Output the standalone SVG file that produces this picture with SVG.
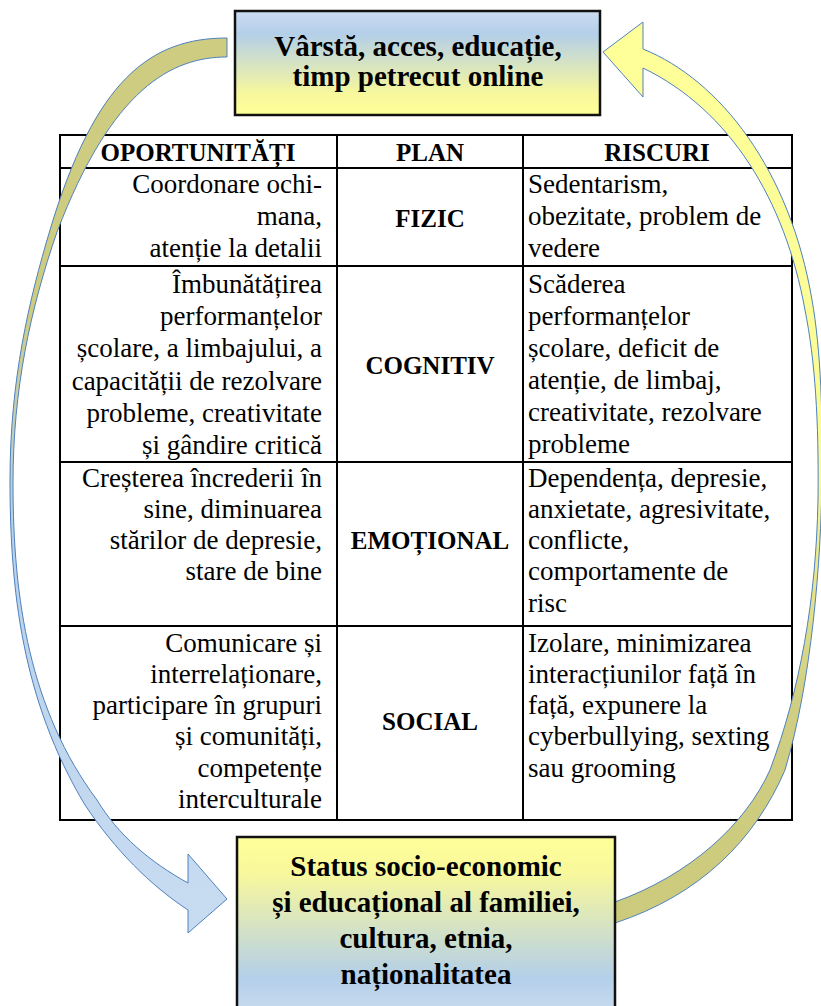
<svg xmlns="http://www.w3.org/2000/svg" width="821" height="1006" viewBox="0 0 821 1006">
<defs>
<linearGradient id="gTop" x1="0" y1="0" x2="0" y2="1">
<stop offset="0" stop-color="#cbddf0"/>
<stop offset="0.22" stop-color="#b4cfe9"/>
<stop offset="0.8" stop-color="#f8f89c"/>
<stop offset="1" stop-color="#ffff99"/>
</linearGradient>
<linearGradient id="gBot" gradientUnits="userSpaceOnUse" x1="0" y1="837" x2="0" y2="1017">
<stop offset="0" stop-color="#ffff99"/>
<stop offset="0.2" stop-color="#f8f89c"/>
<stop offset="0.78" stop-color="#b4cfe9"/>
<stop offset="1" stop-color="#cbddf0"/>
</linearGradient>
<linearGradient id="gLeft" gradientUnits="userSpaceOnUse" x1="0" y1="38" x2="0" y2="933">
<stop offset="0" stop-color="#cdcc80"/>
<stop offset="0.3" stop-color="#cdcc80"/>
<stop offset="0.55" stop-color="#b8d1eb"/>
<stop offset="1" stop-color="#c8dcf1"/>
</linearGradient>
<linearGradient id="gRight" gradientUnits="userSpaceOnUse" x1="0" y1="22" x2="0" y2="923">
<stop offset="0" stop-color="#ffff99"/>
<stop offset="0.5" stop-color="#fbfb96"/>
<stop offset="0.75" stop-color="#d0ce82"/>
<stop offset="1" stop-color="#cccb7c"/>
</linearGradient>
</defs>
<style>
.t { font-family: "Liberation Serif", "Times New Roman", serif; font-size: 27px; fill: #000; }
.r { text-anchor: end; }
.h { font-family: "Liberation Serif", "Times New Roman", serif; font-size: 25px; font-weight: bold; text-anchor: middle; fill: #000; }
.b { font-family: "Liberation Serif", "Times New Roman", serif; font-size: 29px; font-weight: bold; text-anchor: middle; fill: #000; }
.grid { stroke: #000; stroke-width: 2; fill: none; }
.arrow { stroke: #4f81bd; stroke-width: 1; }
.box { stroke: #111; stroke-width: 2.5; }
</style>
<rect x="0" y="0" width="821" height="1006" fill="#fff"/>

<g id="table">
<rect x="60" y="135" width="732" height="685" fill="#fff" class="grid"/>
<line class="grid" x1="60" y1="168" x2="792" y2="168"/>
<line class="grid" x1="60" y1="266" x2="792" y2="266"/>
<line class="grid" x1="60" y1="462" x2="792" y2="462"/>
<line class="grid" x1="60" y1="626" x2="792" y2="626"/>
<line class="grid" x1="337" y1="135" x2="337" y2="820"/>
<line class="grid" x1="523" y1="135" x2="523" y2="820"/>
<g id="header">
<text class="h" x="198" y="161">OPORTUNITĂȚI</text>
<text class="h" x="430" y="161">PLAN</text>
<text class="h" x="657" y="161">RISCURI</text>
</g>
<g id="row-fizic">
<text class="t r" x="322" y="193">Coordonare ochi-</text>
<text class="t r" x="322" y="225">mana,</text>
<text class="t r" x="322" y="257">atenție la detalii</text>
<text class="h" x="430" y="227">FIZIC</text>
<text class="t" x="528" y="193">Sedentarism,</text>
<text class="t" x="528" y="225">obezitate, problem de</text>
<text class="t" x="528" y="257">vedere</text>
</g>
<g id="row-cognitiv">
<text class="t r" x="322" y="293">Îmbunătățirea</text>
<text class="t r" x="322" y="325">performanțelor</text>
<text class="t r" x="322" y="357">școlare, a limbajului, a</text>
<text class="t r" x="322" y="390">capacității de rezolvare</text>
<text class="t r" x="322" y="422">probleme, creativitate</text>
<text class="t r" x="322" y="454">și gândire critică</text>
<text class="h" x="430" y="374">COGNITIV</text>
<text class="t" x="528" y="293">Scăderea</text>
<text class="t" x="528" y="325">performanțelor</text>
<text class="t" x="528" y="357">școlare, deficit de</text>
<text class="t" x="528" y="389">atenție, de limbaj,</text>
<text class="t" x="528" y="421">creativitate, rezolvare</text>
<text class="t" x="528" y="453">probleme</text>
</g>
<g id="row-emotional">
<text class="t r" x="322" y="487">Creșterea încrederii în</text>
<text class="t r" x="322" y="518">sine, diminuarea</text>
<text class="t r" x="322" y="549">stărilor de depresie,</text>
<text class="t r" x="322" y="580">stare de bine</text>
<text class="h" x="430" y="549">EMOȚIONAL</text>
<text class="t" x="528" y="487">Dependența, depresie,</text>
<text class="t" x="528" y="518">anxietate, agresivitate,</text>
<text class="t" x="528" y="549">conflicte,</text>
<text class="t" x="528" y="580">comportamente de</text>
<text class="t" x="528" y="612">risc</text>
</g>
<g id="row-social">
<text class="t r" x="322" y="652">Comunicare și</text>
<text class="t r" x="322" y="683">interrelaționare,</text>
<text class="t r" x="322" y="714">participare în grupuri</text>
<text class="t r" x="322" y="745">și comunități,</text>
<text class="t r" x="322" y="777">competențe</text>
<text class="t r" x="322" y="808">interculturale</text>
<text class="h" x="430" y="730">SOCIAL</text>
<text class="t" x="528" y="652">Izolare, minimizarea</text>
<text class="t" x="528" y="683">interacțiunilor față în</text>
<text class="t" x="528" y="714">față, expunere la</text>
<text class="t" x="528" y="745">cyberbullying, sexting</text>
<text class="t" x="528" y="777">sau grooming</text>
</g>
</g>

<g id="connectors">
<path id="arrow-left" class="arrow" fill="url(#gLeft)" d="M 227,38 C 150,38 95,80 50,230 C 29,300 10,380 10,480 C 10,590 22,700 85,805 C 115,850 150,885 188,910 L 188,933 L 227,899 L 188,854 L 188,883 C 150,862 118,835 97,800 C 30,710 13,600 13,483 C 13,390 30,310 57,232 C 112,88 172,57 227,57 Z"/>
<path id="arrow-right" class="arrow" fill="url(#gRight)" d="M 643,49 C 720,80 790,170 812,300 C 821,350 823,420 822,480 C 821,560 812,680 785,770 C 755,840 700,895 615,923 L 615,902 C 690,875 745,825 770,770 C 800,690 816,600 818,500 C 819,420 815,360 805,310 C 785,200 730,110 643,68 L 643,97 L 603,52 L 643,22 Z"/>
</g>

<g id="box-top">
<rect class="box" x="235" y="11" width="365" height="104" fill="url(#gTop)"/>
<text class="b" x="418" y="56">Vârstă, acces, educație,</text>
<text class="b" x="418" y="86">timp petrecut online</text>
</g>

<g id="box-bottom">
<rect class="box" x="237" y="837" width="378" height="185" fill="url(#gBot)"/>
<text class="b" x="426" y="876">Status socio-economic</text>
<text class="b" x="426" y="912">și educațional al familiei,</text>
<text class="b" x="426" y="948">cultura, etnia,</text>
<text class="b" x="426" y="984">naționalitatea</text>
</g>
</svg>
